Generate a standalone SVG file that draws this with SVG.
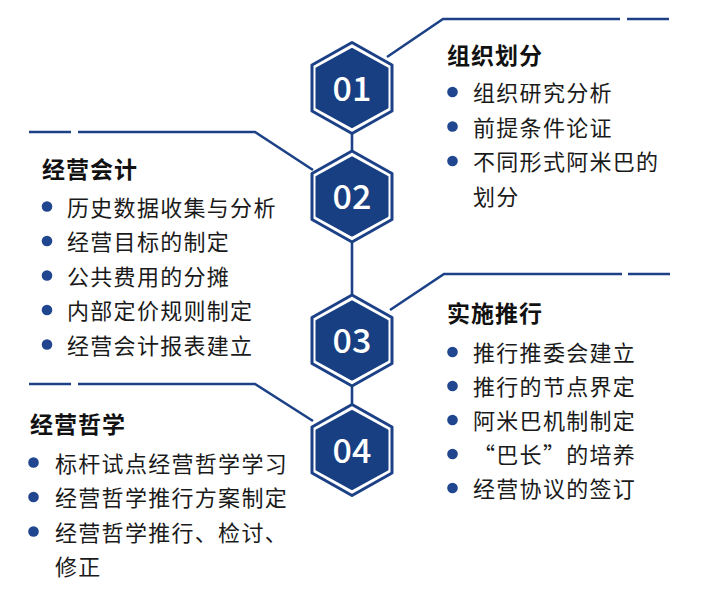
<svg xmlns="http://www.w3.org/2000/svg" xmlns:xlink="http://www.w3.org/1999/xlink" width="707" height="595" viewBox="0 0 707 595">
<style>
.ln{fill:none;stroke:#1c4187;stroke-width:2.6;stroke-linejoin:miter}
.hexo{fill:#ffffff;stroke:#1c4187;stroke-width:3;stroke-linejoin:round}
.hexi{fill:#173f82;stroke:#173f82;stroke-width:2;stroke-linejoin:round}
.num{font-family:"Noto Sans CJK SC","Noto Sans",sans-serif;font-size:34px;font-weight:500;fill:#ffffff;text-anchor:middle}
.ttl{font-family:"Noto Sans CJK SC",sans-serif;font-size:23px;font-weight:bold;fill:#111111;letter-spacing:1px}
.itm{font-family:"Noto Sans CJK SC",sans-serif;font-size:22px;fill:#1a1a1a;letter-spacing:1.3px}
.dot{fill:#1f468e}
</style>
<defs>
<g id="hex">
<path class="hexo" d="M0,-45.5 L40,-23 L40,23 L0,45.5 L-40,23 L-40,-23 Z"/>
<path class="hexi" d="M0,-39 L35.5,-19.5 L35.5,19.5 L0,39 L-35.5,19.5 L-35.5,-19.5 Z"/>
</g>
</defs>
<g id="connectors">
<path class="ln" d="M352,134 V151"/>
<path class="ln" d="M352,243 V295"/>
<path class="ln" d="M352,387 V405"/>
<path class="ln" d="M387,57 L443,19 H620"/>
<path class="ln" d="M627,19 H669"/>
<path class="ln" d="M29,132 H71"/>
<path class="ln" d="M78,132 H255 L313,170"/>
<path class="ln" d="M390,310 L444,274 H622"/>
<path class="ln" d="M628,274 H670"/>
<path class="ln" d="M29,384 H71"/>
<path class="ln" d="M78,384 H255 L313,421"/>
</g>
<g id="node01">
<use xlink:href="#hex" x="352" y="88"/>
<text class="num" x="352" y="100.5">01</text>
<text class="ttl" x="447" y="63.5">组织划分</text>
<circle class="dot" cx="452.5" cy="92" r="5.3"/>
<text class="itm" x="473" y="101">组织研究分析</text>
<circle class="dot" cx="452.5" cy="126.5" r="5.3"/>
<text class="itm" x="473" y="135.5">前提条件论证</text>
<circle class="dot" cx="452.5" cy="161" r="5.3"/>
<text class="itm" x="473" y="170">不同形式阿米巴的</text>
<text class="itm" x="473" y="204.5">划分</text>
</g>
<g id="node02">
<use xlink:href="#hex" x="352" y="196.5"/>
<text class="num" x="352" y="209">02</text>
<text class="ttl" x="42" y="177.5">经营会计</text>
<circle class="dot" cx="47" cy="206.5" r="5.3"/>
<text class="itm" x="67" y="215.5">历史数据收集与分析</text>
<circle class="dot" cx="47" cy="241" r="5.3"/>
<text class="itm" x="67" y="250">经营目标的制定</text>
<circle class="dot" cx="47" cy="275.5" r="5.3"/>
<text class="itm" x="67" y="284.5">公共费用的分摊</text>
<circle class="dot" cx="47" cy="310" r="5.3"/>
<text class="itm" x="67" y="319">内部定价规则制定</text>
<circle class="dot" cx="47" cy="344.5" r="5.3"/>
<text class="itm" x="67" y="353.5">经营会计报表建立</text>
</g>
<g id="node03">
<use xlink:href="#hex" x="352" y="340.5"/>
<text class="num" x="352" y="353">03</text>
<text class="ttl" x="447" y="321.5">实施推行</text>
<circle class="dot" cx="452.5" cy="352" r="5.3"/>
<text class="itm" x="473" y="361">推行推委会建立</text>
<circle class="dot" cx="452.5" cy="386" r="5.3"/>
<text class="itm" x="473" y="395">推行的节点界定</text>
<circle class="dot" cx="452.5" cy="420" r="5.3"/>
<text class="itm" x="473" y="429">阿米巴机制制定</text>
<circle class="dot" cx="452.5" cy="454" r="5.3"/>
<text class="itm" x="473" y="463">“巴长”的培养</text>
<circle class="dot" cx="452.5" cy="488" r="5.3"/>
<text class="itm" x="473" y="497">经营协议的签订</text>
</g>
<g id="node04">
<use xlink:href="#hex" x="352" y="450"/>
<text class="num" x="352" y="462.5">04</text>
<text class="ttl" x="30" y="432.5">经营哲学</text>
<circle class="dot" cx="33.5" cy="462.5" r="5.3"/>
<text class="itm" x="55" y="471.5">标杆试点经营哲学学习</text>
<circle class="dot" cx="33.5" cy="497" r="5.3"/>
<text class="itm" x="55" y="506">经营哲学推行方案制定</text>
<circle class="dot" cx="33.5" cy="531.5" r="5.3"/>
<text class="itm" x="55" y="540.5">经营哲学推行、检讨、</text>
<text class="itm" x="55" y="575">修正</text>
</g>
</svg>
